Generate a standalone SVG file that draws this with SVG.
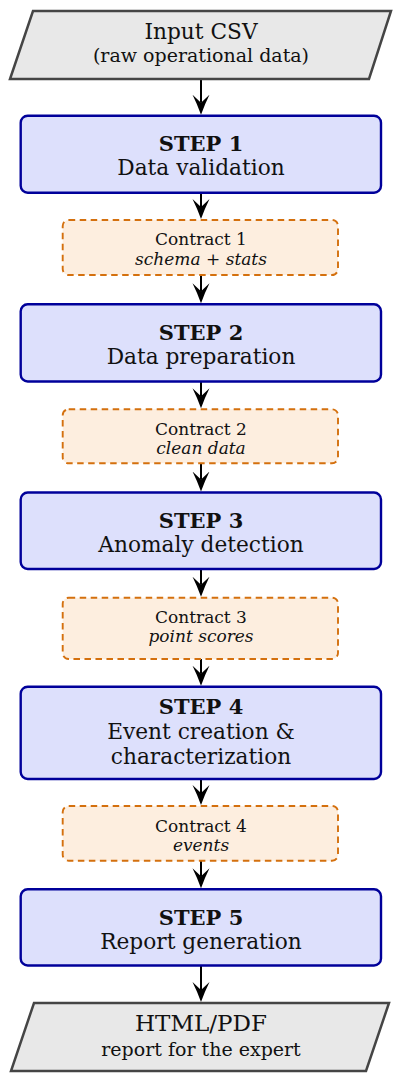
<svg xmlns="http://www.w3.org/2000/svg" width="401" height="1081" viewBox="0 0 401 1081">
<style>
.io{fill:#e8e8e8;stroke:#454545;stroke-width:2.5}
.step{fill:#dde0fc;stroke:#00009a;stroke-width:2.4}
.ctr{fill:#fdeedf;stroke:#d4700e;stroke-width:1.9;stroke-dasharray:6.5 4.5}
text{font-family:"DejaVu Serif","Liberation Serif",serif;text-anchor:middle;fill:#111}
.m{font-size:21.7px}
.b{font-size:21px;font-weight:bold}
.s{font-size:19px}
.h{font-size:23px}
.c{font-size:17px}
.ci{font-size:17px;font-style:italic}
.conn line{stroke:#000;stroke-width:2}
</style>
<defs>
<marker id="ah" markerUnits="userSpaceOnUse" viewBox="0 0 20 18" markerWidth="20" markerHeight="18" refX="8" refY="9" orient="auto">
<path d="M20,9 Q9,5 0,0.5 L8,9 L0,17.5 Q9,13 20,9 Z" fill="#000"/>
</marker>
</defs>
<g class="conn">
<line x1="201" y1="79" x2="201" y2="102.7" marker-end="url(#ah)"/>
<line x1="201" y1="192.7" x2="201" y2="207" marker-end="url(#ah)"/>
<line x1="201" y1="275" x2="201" y2="291.3" marker-end="url(#ah)"/>
<line x1="201" y1="381.5" x2="201" y2="396.3" marker-end="url(#ah)"/>
<line x1="201" y1="463.3" x2="201" y2="479.5" marker-end="url(#ah)"/>
<line x1="201" y1="569" x2="201" y2="584.7" marker-end="url(#ah)"/>
<line x1="201" y1="659" x2="201" y2="673.7" marker-end="url(#ah)"/>
<line x1="201" y1="779" x2="201" y2="793" marker-end="url(#ah)"/>
<line x1="201" y1="860.7" x2="201" y2="876.3" marker-end="url(#ah)"/>
<line x1="201" y1="965.5" x2="201" y2="990" marker-end="url(#ah)"/>
</g>
<g id="input">
<polygon class="io" points="33,11 391,11 369,79 10,79"/>
<text class="m" x="201" y="38.5">Input CSV</text>
<text class="s" x="201" y="61.5">(raw operational data)</text>
</g>
<g id="step1">
<rect class="step" x="20.7" y="115.7" width="360.3" height="77" rx="7"/>
<text class="b" x="201" y="151">STEP 1</text>
<text class="m" x="201" y="175">Data validation</text>
</g>
<g id="contract1">
<rect class="ctr" x="62.7" y="220" width="275.3" height="55" rx="6"/>
<text class="c" x="201" y="245.3">Contract 1</text>
<text class="ci" x="201" y="264.8">schema + stats</text>
</g>
<g id="step2">
<rect class="step" x="20.7" y="304.3" width="360.3" height="77.2" rx="7"/>
<text class="b" x="201" y="339.5">STEP 2</text>
<text class="m" x="201" y="363.5">Data preparation</text>
</g>
<g id="contract2">
<rect class="ctr" x="62.7" y="409.3" width="275.3" height="54" rx="6"/>
<text class="c" x="201" y="434.6">Contract 2</text>
<text class="ci" x="201" y="454">clean data</text>
</g>
<g id="step3">
<rect class="step" x="20.7" y="492.5" width="360.3" height="76.5" rx="7"/>
<text class="b" x="201" y="528">STEP 3</text>
<text class="m" x="201" y="552">Anomaly detection</text>
</g>
<g id="contract3">
<rect class="ctr" x="62.7" y="597.7" width="275.3" height="61.3" rx="6"/>
<text class="c" x="201" y="622.5">Contract 3</text>
<text class="ci" x="201" y="642">point scores</text>
</g>
<g id="step4">
<rect class="step" x="20.7" y="686.7" width="360.3" height="92.3" rx="7"/>
<text class="b" x="201" y="714">STEP 4</text>
<text class="m" x="201" y="739">Event creation &amp;</text>
<text class="m" x="201" y="764">characterization</text>
</g>
<g id="contract4">
<rect class="ctr" x="62.7" y="806" width="275.3" height="54.7" rx="6"/>
<text class="c" x="201" y="831.5">Contract 4</text>
<text class="ci" x="201" y="851">events</text>
</g>
<g id="step5">
<rect class="step" x="20.7" y="889.3" width="360.3" height="76.2" rx="7"/>
<text class="b" x="201" y="924.5">STEP 5</text>
<text class="m" x="201" y="948.5">Report generation</text>
</g>
<g id="output">
<polygon class="io" points="34,1003 389,1003 366,1071 11,1071"/>
<text class="h" x="201" y="1031">HTML/PDF</text>
<text class="s" x="201" y="1056">report for the expert</text>
</g>
</svg>
